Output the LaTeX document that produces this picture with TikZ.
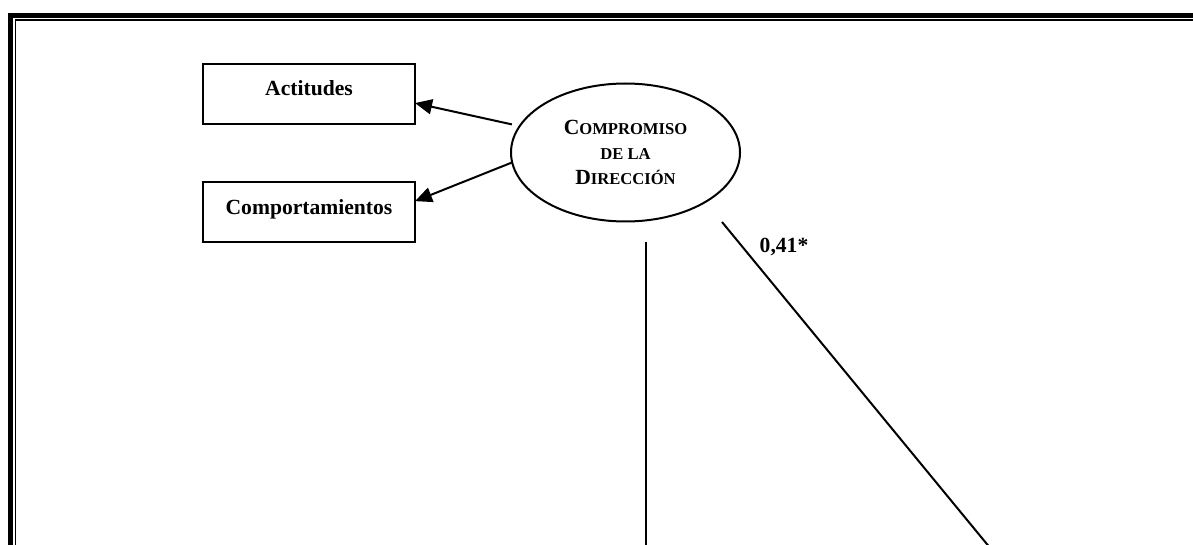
\documentclass[tikz,border=0pt]{standalone}
\usepackage{fontspec}
\setmainfont{Liberation Serif}
\usetikzlibrary{arrows.meta,positioning,shapes.geometric}
\newcommand{\smcap}[2]{{\fontsize{10.8}{12.5}\selectfont #1}{\fontsize{8.3}{12.5}\selectfont #2}}
\tikzset{ind/.style={draw,line width=1pt,minimum width=106pt,minimum height=30pt,inner sep=0pt,outer sep=0pt,text height=8pt,text depth=6pt},
 lat/.style={draw,ellipse,line width=1pt,minimum width=114.5pt,minimum height=69pt,inner sep=0pt,outer sep=0pt,align=center},
 wire/.style={line width=1pt},arr/.style={-{Triangle[length=8.5pt,width=7.5pt]},line width=1pt},
 every node/.style={font=\fontsize{10.8}{12.5}\selectfont\bfseries}}
\begin{document}
\begin{tikzpicture}[x=.5pt,y=-.5pt]
\clip (0,0) rectangle (1193,545);
\draw[line width=2.3pt] (10.5,560)--(10.5,15.8)--(1210,15.8);
\draw[line width=.8pt] (15.3,560)--(15.3,20.3)--(1210,20.3);
\node[lat] (dir) at (625.5,152.5) {\smcap{C}{OMPROMISO}\\\smcap{}{DE LA}\\\smcap{D}{IRECCIÓN}};
\node[ind] (act) at (309,93.8) {Actitudes};
\node[ind] (com) at (309,212.3) {Comportamientos};
\draw[arr,shorten <=4pt] (dir.166)--(act.-5);\draw[arr] (dir.185)--(com.6);
\coordinate (v1) at (646,241.7);\coordinate (v2) at (646,560);
\coordinate (d1) at (722,222);\coordinate (d2) at (1000,560);
\draw[wire] (v1)--(v2);\draw[wire] (d1)--(d2);
\node (w) at (784,247) {0,41*};
\end{tikzpicture}
\end{document}
